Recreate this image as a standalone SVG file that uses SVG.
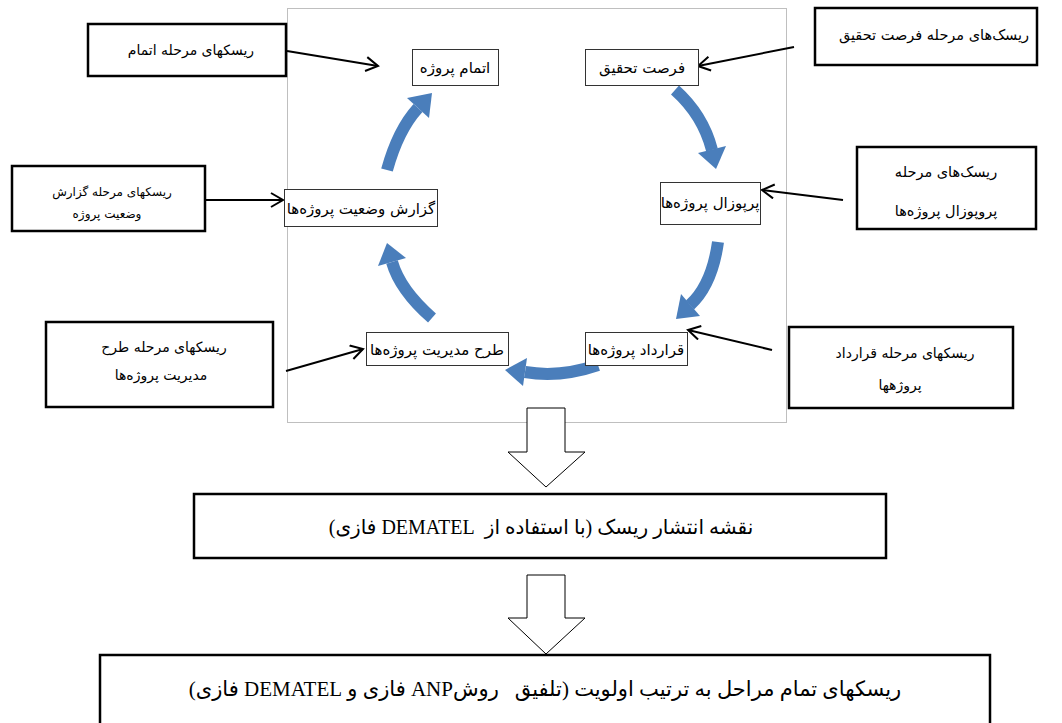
<svg xmlns="http://www.w3.org/2000/svg" width="1062" height="723" viewBox="0 0 1062 723">
<style>
.box{fill:#fff;stroke:#000;stroke-width:2.5}
.node{fill:#fff;stroke:#333;stroke-width:1}
.t{font-family:"DejaVu Sans","Noto Sans",sans-serif;fill:#000;text-anchor:middle;direction:rtl;white-space:pre}
.tn{font-size:15px}
.ts{font-size:14px}
.tb{font-family:"Liberation Serif","DejaVu Sans",serif;font-size:20px}
.con{stroke:#000;stroke-width:2;fill:none}
.arc{stroke:#4A7EBB;stroke-width:12;fill:none}
.head{fill:#4A7EBB}
.big{fill:#fff;stroke:#000;stroke-width:1}
</style>
<defs>
<marker id="v" markerWidth="16" markerHeight="16" refX="13" refY="8" orient="auto" markerUnits="userSpaceOnUse">
<path d="M1,1 L13,8 L1,15" fill="none" stroke="#000" stroke-width="2"/>
</marker>
</defs>
<rect x="0" y="0" width="1062" height="723" fill="#fff"/>
<rect x="287.500" y="8.500" width="499" height="414" fill="none" stroke="#bfbfbf" stroke-width="1"/>

<g id="cycle-arcs">
<path class="arc" d="M675 90 Q703 115 712 150"/>
<polygon class="head" points="726,146 698,153 716,169"/>
<path class="arc" d="M718 242 Q712 285 690 305"/>
<polygon class="head" points="700,316 681,294 676,319"/>
<path class="arc" d="M598 365 Q560 378 525 372"/>
<polygon class="head" points="527,358 523,386 505,370"/>
<path class="arc" d="M432 318 Q400 290 392 262"/>
<polygon class="head" points="406,258 378,266 387,243"/>
<path class="arc" d="M387 170 Q398 130 418 108"/>
<polygon class="head" points="429,118 407,98 432,93"/>
</g>

<g id="connectors">
<line class="con" x1="287" y1="51" x2="378" y2="66" marker-end="url(#v)"/>
<line class="con" x1="794" y1="47" x2="698" y2="66" marker-end="url(#v)"/>
<line class="con" x1="205" y1="200" x2="283" y2="200" marker-end="url(#v)"/>
<line class="con" x1="843" y1="200" x2="762" y2="190" marker-end="url(#v)"/>
<line class="con" x1="286" y1="371" x2="363" y2="349" marker-end="url(#v)"/>
<line class="con" x1="772" y1="350" x2="688" y2="330" marker-end="url(#v)"/>
<polygon class="big" points="527,408 565,408 565,452 585,452 546,487 508,452 527,452"/>
<polygon class="big" points="527,575 565,575 565,618 585,618 546,654 508,618 527,618"/>
</g>

<g id="n-etmam"><rect class="node" x="412.500" y="49.500" width="86" height="36"/><text class="t tn" x="455" y="73">اتمام پروژه</text></g>
<g id="n-forsat"><rect class="node" x="585.500" y="49.500" width="113" height="36"/><text class="t tn" x="642" y="73">فرصت تحقیق</text></g>
<g id="n-proposal"><rect class="node" x="660.500" y="182.500" width="100" height="42"/><text class="t tn" x="710" y="208">پرپوزال پروژه‌ها</text></g>
<g id="n-gharardad"><rect class="node" x="585.500" y="332.500" width="102" height="33"/><text class="t tn" x="636" y="355">قرارداد پروژه‌ها</text></g>
<g id="n-tarh"><rect class="node" x="366.500" y="332.500" width="142" height="33"/><text class="t tn" x="437" y="355">طرح مدیریت پروژه‌ها</text></g>
<g id="n-gozaresh"><rect class="node" x="284.500" y="189.500" width="153" height="37"/><text class="t tn" x="361" y="214">گزارش وضعیت پروژه‌ها</text></g>

<g id="r-etmam"><rect class="box" x="88" y="24" width="198" height="52"/><text class="t ts" x="191" y="55">ریسکهای مرحله اتمام</text></g>
<g id="r-forsat"><rect class="box" x="815" y="8" width="222" height="57"/><text class="t ts" x="934" y="40" style="font-size:14.5px">ریسک‌های مرحله فرصت تحقیق</text></g>
<g id="r-proposal"><rect class="box" x="857" y="147" width="179" height="82"/><text class="t ts" x="946" y="177" style="font-size:14.5px">ریسک‌های مرحله</text><text class="t ts" x="946" y="216" style="font-size:14.5px">پروپوزال پروژه‌ها</text></g>
<g id="r-gozaresh"><rect class="box" x="12" y="166" width="193" height="65"/><text class="t ts" x="112" y="196" style="font-size:12px">ریسکهای مرحله گزارش</text><text class="t ts" x="107" y="218" style="font-size:12px">وضعیت پروژه</text></g>
<g id="r-tarh"><rect class="box" x="46" y="322" width="227" height="85"/><text class="t ts" x="164" y="352">ریسکهای مرحله طرح</text><text class="t ts" x="161" y="380">مدیریت پروژه‌ها</text></g>
<g id="r-gharardad"><rect class="box" x="789" y="327" width="224" height="81"/><text class="t ts" x="905" y="358">ریسکهای مرحله قرارداد</text><text class="t ts" x="900" y="390">پروژهها</text></g>

<g id="b-dematel"><rect class="box" x="194" y="494" width="692" height="64"/><text class="t tb" x="541" y="534">نقشه انتشار ریسک (با استفاده از  DEMATEL فازی)</text></g>
<g id="b-final"><rect class="box" x="100" y="655" width="890" height="80"/><text class="t tb" x="545" y="696" style="font-size:21px">ریسکهای تمام مراحل به ترتیب اولویت (تلفیق   روشANP فازی و DEMATEL فازی)</text></g>
</svg>
